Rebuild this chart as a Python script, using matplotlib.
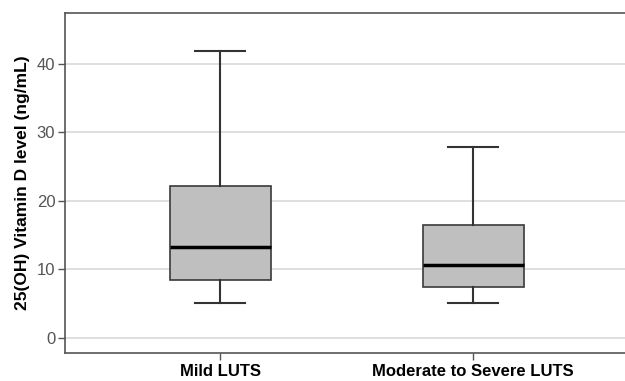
import matplotlib.pyplot as plt

groups = ['Mild LUTS', 'Moderate to Severe LUTS']
whislo = [5.1, 5.05]
q1 = [8.4, 7.4]
med = [13.3, 10.7]
q3 = [22.1, 16.4]
whishi = [41.9, 27.9]

plt.rcParams['font.family'] = ['Liberation Sans', 'DejaVu Sans']

fig = plt.figure(figsize=(6.25, 3.81), dpi=100)
ax = fig.add_axes([0.104, 0.0735, 0.896, 0.8925])

stats = []
for i, g in enumerate(groups):
    stats.append(dict(label=g, whislo=whislo[i], q1=q1[i], med=med[i],
                      q3=q3[i], whishi=whishi[i], fliers=[]))

ax.bxp(stats, positions=[1, 2], widths=0.4, patch_artist=True,
       boxprops=dict(facecolor='#bfbfbf', edgecolor='#3a3a3a', linewidth=1.2),
       medianprops=dict(color='black', linewidth=2.5),
       whiskerprops=dict(color='#333333', linewidth=1.5),
       capprops=dict(color='#333333', linewidth=1.5),
       zorder=3)

ax.set_xlim(0.387, 2.6)
ax.set_ylim(-2.2, 47.4)
ax.set_yticks([0, 10, 20, 30, 40])
ax.yaxis.grid(True, color='#d9d9d9', linewidth=1.2, zorder=0)
ax.set_axisbelow(True)

for s in ['left', 'bottom', 'top']:
    ax.spines[s].set_color('#555555')
    ax.spines[s].set_linewidth(1.2)
ax.spines['right'].set_visible(False)

ax.tick_params(axis='y', colors='#555555', labelsize=12, length=5, width=1, pad=2)
ax.tick_params(axis='x', colors='#555555', length=5, width=1, pad=3)
for lbl in ax.get_xticklabels():
    lbl.set_fontweight('bold')
    lbl.set_fontsize(12)
    lbl.set_color('black')

ax.set_ylabel('25(OH) Vitamin D level (ng/mL)', fontsize=12.5, fontweight='bold', labelpad=5)

plt.savefig('out.png', dpi=100)
plt.close()
